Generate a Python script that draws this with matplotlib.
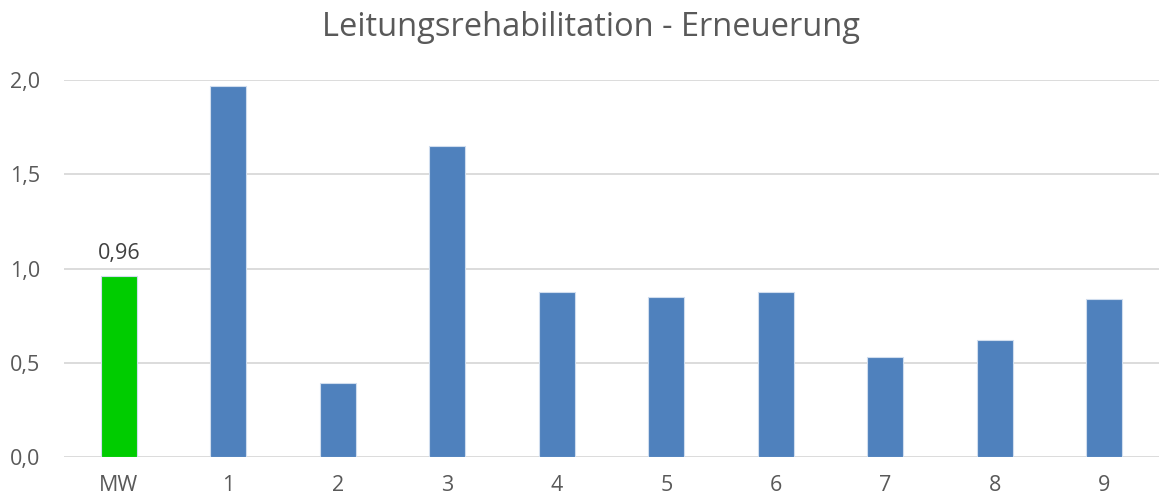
import matplotlib
matplotlib.use("Agg")
import matplotlib.pyplot as plt
from matplotlib.ticker import FuncFormatter

categories = ["MW", "1", "2", "3", "4", "5", "6", "7", "8", "9"]
values = [0.96, 1.97, 0.39, 1.65, 0.875, 0.85, 0.875, 0.53, 0.62, 0.84]
colors = ["#00CC00"] + ["#4F81BD"] * 9
title = "Leitungsrehabilitation - Erneuerung"
yticks = [0.0, 0.5, 1.0, 1.5, 2.0]

plt.rcParams['font.family'] = ['Open Sans', 'DejaVu Sans']

fig = plt.figure(figsize=(11.59, 4.97), dpi=100)
ax = fig.add_axes([64/1159, 1-457/497, 1-64/1159, (457-80)/497])

x = list(range(len(categories)))
ax.bar(x, values, width=0.33, color=colors, edgecolor="#D0DDEE", linewidth=0.8, zorder=3)
ax.set_xlim(-0.5, len(categories) - 0.5)
ax.set_ylim(0, 2.0)
ax.set_yticks(yticks)
ax.yaxis.set_major_formatter(FuncFormatter(lambda v, p: f"{v:.1f}".replace(".", ",")))
ax.set_xticks(x)
ax.set_xticklabels(categories)
ax.grid(axis='y', color="#D9D9D9", linewidth=1.3, zorder=0)
ax.set_axisbelow(True)
for s in ax.spines.values():
    s.set_visible(False)
ax.tick_params(axis='both', length=0, labelsize=15.5, colors="#595959")
ax.tick_params(axis='x', pad=13)
ax.tick_params(axis='y', pad=39)
for lab in ax.get_yticklabels():
    lab.set_horizontalalignment('left')

ax.annotate(f"{values[0]:.2f}".replace(".", ","), (x[0], values[0]), xytext=(0, 9),
            textcoords="offset points", ha="center", va="bottom", fontsize=15.5, color="#404040")

fig.text(591/1159, 1 - 27/497, title, ha="center", va="center", fontsize=23.5, color="#595959")

fig.savefig("out.png", dpi=100)
